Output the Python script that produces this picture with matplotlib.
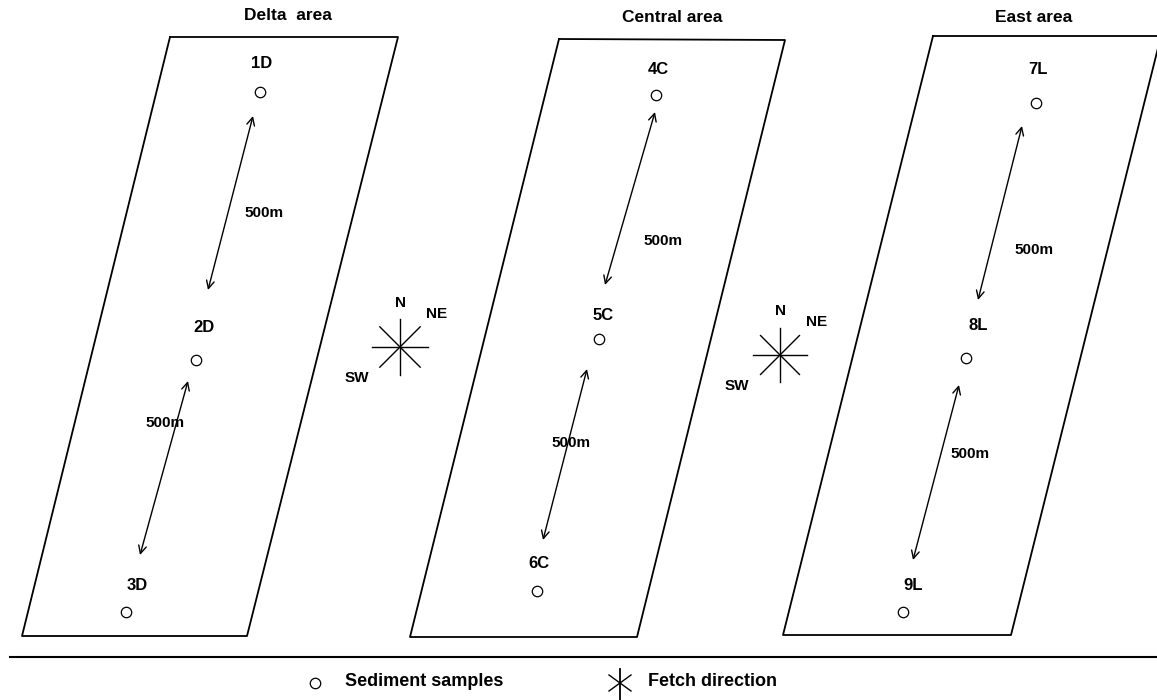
import matplotlib
matplotlib.use('Agg')
import matplotlib.pyplot as plt
from matplotlib import font_manager

# pixel coordinates of the reference picture (y grows downward)
area_names = ['Delta  area', 'Central area', 'East area']
area_title_x = [288, 672, 1034]
area_title_y = [16, 18, 18]
# corners: top-left, top-right, bottom-right, bottom-left
area_corners = [
    [(170, 37), (398, 37), (247, 636), (22, 636)],
    [(559, 39), (785, 40), (637, 637), (410, 637)],
    [(933, 36), (1161, 36), (1011, 635), (783, 635)],
]

sample_names = ['1D', '2D', '3D', '4C', '5C', '6C', '7L', '8L', '9L']
sample_x = [260, 196, 126, 656, 599, 537, 1036, 966, 903]
sample_y = [92, 360, 612, 95, 339, 591, 103, 358, 612]
label_x = [262, 204, 137, 658, 603, 539, 1038, 978, 913]
label_y = [63, 327, 585, 70, 315, 564, 70, 325, 586]

# distance arrows (start, end) and their labels
arrow_start = [(253, 116), (188, 381), (655, 112), (587, 369), (1022, 126), (959, 385)]
arrow_end = [(208, 290), (140, 555), (605, 285), (543, 540), (978, 300), (913, 560)]
dist_text = ['500m'] * 6
dist_x = [264, 165, 663, 571, 1034, 970]
dist_y = [213, 423, 241, 443, 250, 454]

# fetch direction stars
star_x = [400, 780]
star_y = [347, 355]
star_r = [28, 27]
star_labels = ['N', 'NE', 'SW']
star_label_dx = [0, 37, -43]
star_label_dy = [-44, -33, 31]

names = {f.name for f in font_manager.fontManager.ttflist}
font = ['Liberation Sans Narrow', 'DejaVu Sans'] if 'Liberation Sans Narrow' in names else ['Liberation Sans', 'DejaVu Sans']


def draw_star(ax, cx, cy, r, lw=1.0):
    d = r * 0.72
    ax.plot([cx, cx], [cy - r, cy + r], color='black', lw=lw)
    ax.plot([cx - r, cx + r], [cy, cy], color='black', lw=lw)
    ax.plot([cx - d, cx + d], [cy - d, cy + d], color='black', lw=lw)
    ax.plot([cx + d, cx - d], [cy - d, cy + d], color='black', lw=lw)


fig = plt.figure(figsize=(11.57, 7), dpi=100)
ax = fig.add_axes([0, 0, 1, 1])
ax.set_xlim(0, 1157)
ax.set_ylim(700, 0)
ax.axis('off')

for name, tx, ty, corners in zip(area_names, area_title_x, area_title_y, area_corners):
    xs = [c[0] for c in corners] + [corners[0][0]]
    ys = [c[1] for c in corners] + [corners[0][1]]
    ax.plot(xs, ys, color='black', lw=1.3)
    ax.text(tx, ty, name, ha='center', va='center', fontsize=12.5,
            fontweight='bold', family=font)

ax.plot(sample_x, sample_y, 'o', ms=7.5, mfc='white', mec='black', mew=0.9, ls='none')
for name, lx, ly in zip(sample_names, label_x, label_y):
    ax.text(lx, ly, name, ha='center', va='center', fontsize=12,
            fontweight='bold', family=font)

for s, e in zip(arrow_start, arrow_end):
    ax.annotate('', xy=e, xytext=s,
                arrowprops=dict(arrowstyle='<->', color='black', lw=1.0,
                                mutation_scale=14, shrinkA=0, shrinkB=0))
for t, dx, dy in zip(dist_text, dist_x, dist_y):
    ax.text(dx, dy, t, ha='center', va='center', fontsize=11,
            fontweight='bold', family=font)

for cx, cy, r in zip(star_x, star_y, star_r):
    draw_star(ax, cx, cy, r)
    for lab, ldx, ldy in zip(star_labels, star_label_dx, star_label_dy):
        ax.text(cx + ldx, cy + ldy, lab, ha='center', va='center', fontsize=11,
                fontweight='bold', family=font)

# separator and legend
ax.plot([10, 1157], [657, 657], color='black', lw=1.5)
ax.plot([315], [683], 'o', ms=7.5, mfc='white', mec='black', mew=0.9)
ax.text(345, 682, 'Sediment samples', ha='left', va='center', fontsize=13,
        fontweight='bold', family=font)
# legend star: vertical stroke plus an X
ax.plot([620, 620], [669, 700], color='black', lw=1.3)
ax.plot([609, 631], [675, 691], color='black', lw=1.0)
ax.plot([609, 631], [691, 675], color='black', lw=1.0)
ax.text(648, 682, 'Fetch direction', ha='left', va='center', fontsize=13,
        fontweight='bold', family=font)

fig.savefig('out.png', dpi=100, facecolor='white')
